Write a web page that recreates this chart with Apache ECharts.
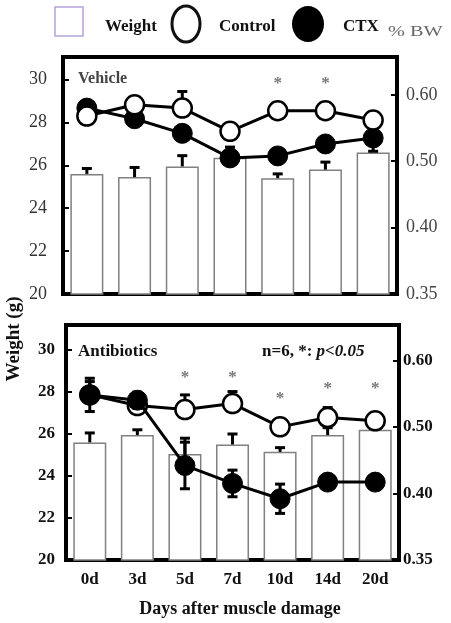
<!DOCTYPE html>
<html><head><meta charset="utf-8">
<script src="https://cdn.jsdelivr.net/npm/echarts@6/dist/echarts.min.js"></script>
<style>html,body{margin:0;padding:0;background:#fff}#c{width:451px;height:623px}</style>
</head><body><div id="c"></div>
<script>
const categories = ['0d','3d','5d','7d','10d','14d','20d'];
const rightTickValues = [0.3, 0.4, 0.5, 0.6];
const rightTickLabels = ['0.35', '0.40', '0.50', '0.60'];

// Vehicle panel
const vehWeight = [25.6, 25.45, 25.95, 26.35, 25.4, 25.8, 26.6];
const vehWeightErr = [0.25, 0.45, 0.5, 0.5, 0.2, 0.35, 0];
const vehControl = [0.568, 0.585, 0.580, 0.545, 0.576, 0.576, 0.562];
const vehControlErr = [0, 0, 0.025, 0, 0, 0, 0];
const vehCTX = [0.580, 0.564, 0.542, 0.505, 0.508, 0.526, 0.535];
const vehCTXErr = [0, 0, 0, 0, 0, 0, 0.02];
const vehStars = [null, null, null, null, 0.625, 0.625, null];

// Antibiotics panel
const abxWeight = [25.6, 25.95, 25.05, 25.5, 25.15, 25.95, 26.2];
const abxWeightErr = [0.45, 0.25, 0.75, 0.5, 0.2, 0.35, 0];
const abxControl = [0.548, 0.532, 0.526, 0.535, 0.500, 0.514, 0.509];
const abxControlErr = [0.02, 0.01, 0.022, 0.018, 0, 0.015, 0];
const abxCTX = [0.548, 0.540, 0.442, 0.415, 0.392, 0.417, 0.417];
const abxCTXErr = [0.025, 0.012, 0.035, 0.02, 0.022, 0.01, 0];
const abxStars = [null, null, 0.582, 0.582, 0.55, 0.565, 0.565];

const SERIF = "'Liberation Serif','DejaVu Serif',serif";

function errSeries(vals, errs, mode, xi, yi, z) {
  return {
    type: 'custom', xAxisIndex: xi, yAxisIndex: yi, z: z, silent: true,
    data: vals.map((v, i) => [i, v, errs[i]]),
    encode: {x: 0, y: 1},
    renderItem: function (params, api) {
      const i = api.value(0), v = api.value(1), e = api.value(2);
      if (!e) return null;
      const t = api.coord([i, v + e]);
      const b = mode === 'up' ? api.coord([i, v]) : api.coord([i, v - e]);
      const st = {stroke: '#000', lineWidth: 3};
      const ch = [
        {type: 'line', shape: {x1: t[0], y1: t[1], x2: b[0], y2: b[1]}, style: st},
        {type: 'line', shape: {x1: t[0] - 5, y1: t[1], x2: t[0] + 5, y2: t[1]}, style: st}
      ];
      if (mode !== 'up') ch.push({type: 'line', shape: {x1: b[0] - 5, y1: b[1], x2: b[0] + 5, y2: b[1]}, style: st});
      return {type: 'group', children: ch};
    }
  };
}
function starSeries(vals, xi, yi) {
  return {
    type: 'custom', xAxisIndex: xi, yAxisIndex: yi, z: 10, silent: true,
    data: vals.map((v, i) => [i, v]).filter(d => d[1] != null),
    encode: {x: 0, y: 1},
    renderItem: function (params, api) {
      const p = api.coord([api.value(0), api.value(1)]);
      return {type: 'text', x: p[0], y: p[1] + 5,
        style: {text: '*', fill: '#777', font: 'bold 17px ' + SERIF, align: 'center', verticalAlign: 'middle'}};
    }
  };
}
function barSeries(vals, xi, yi) {
  return {type: 'bar', xAxisIndex: xi, yAxisIndex: yi, data: vals, barWidth: 33, z: 1,
    itemStyle: {color: '#fff', borderColor: '#808080', borderWidth: 1.5}};
}
function lineSeries(vals, filled, xi, yi, z) {
  return {type: 'line', xAxisIndex: xi, yAxisIndex: yi, data: vals, z: z,
    symbol: 'circle', symbolSize: filled ? 20 : 19, showAllSymbol: true,
    lineStyle: {color: '#000', width: 3},
    itemStyle: filled ? {color: '#000', borderColor: '#000', borderWidth: 1}
                      : {color: '#fff', borderColor: '#000', borderWidth: 2.5}};
}
function rightFmt(v) {
  const i = rightTickValues.findIndex(t => Math.abs(t - v) < 1e-6);
  return i >= 0 ? rightTickLabels[i] : '';
}

const option = {
  animation: false,
  backgroundColor: '#fff',
  grid: [
    {left: 63, width: 334, top: 57, height: 237, show: true, borderColor: '#000', borderWidth: 4},
    {left: 66, width: 333, top: 325, height: 235, show: true, borderColor: '#000', borderWidth: 4}
  ],
  xAxis: [
    {type: 'category', gridIndex: 0, data: categories, axisLine: {show: false}, axisTick: {show: false}, axisLabel: {show: false}},
    {type: 'category', gridIndex: 1, data: categories, axisLine: {show: false}, axisTick: {show: false},
     axisLabel: {margin: 11, fontFamily: SERIF, fontWeight: 'bold', fontSize: 17, color: '#111'}}
  ],
  yAxis: [
    {type: 'value', gridIndex: 0, min: 20, max: 31.05, interval: 2, splitLine: {show: false},
     axisLine: {show: false}, axisTick: {show: true, inside: true, length: 6, lineStyle: {color: '#000', width: 2}},
     axisLabel: {margin: 16, showMaxLabel: false, fontFamily: SERIF, fontSize: 18, color: '#333'}},
    {type: 'value', gridIndex: 0, position: 'right', min: 0.3, max: 0.657, interval: 0.1, splitLine: {show: false},
     axisLine: {show: false}, axisTick: {show: true, inside: true, length: 6, lineStyle: {color: '#000', width: 2}},
     axisLabel: {margin: 9, formatter: rightFmt, fontFamily: SERIF, fontSize: 18, color: '#444'}},
    {type: 'value', gridIndex: 1, min: 20, max: 31.19, interval: 2, splitLine: {show: false},
     axisLine: {show: false}, axisTick: {show: true, inside: true, length: 6, lineStyle: {color: '#000', width: 2}},
     axisLabel: {margin: 11, showMaxLabel: false, fontFamily: SERIF, fontWeight: 'bold', fontSize: 17, color: '#111'}},
    {type: 'value', gridIndex: 1, position: 'right', min: 0.3, max: 0.653, interval: 0.1, splitLine: {show: false},
     axisLine: {show: false}, axisTick: {show: true, inside: true, length: 6, lineStyle: {color: '#000', width: 2}},
     axisLabel: {margin: 4, formatter: rightFmt, fontFamily: SERIF, fontWeight: 'bold', fontSize: 17, color: '#111'}}
  ],
  series: [
    barSeries(vehWeight, 0, 0),
    errSeries(vehWeight, vehWeightErr, 'up', 0, 0, 2),
    errSeries(vehCTX, vehCTXErr, 'both', 0, 1, 3),
    lineSeries(vehCTX, true, 0, 1, 4),
    errSeries(vehControl, vehControlErr, 'up', 0, 1, 5),
    lineSeries(vehControl, false, 0, 1, 6),
    starSeries(vehStars, 0, 1),

    barSeries(abxWeight, 1, 2),
    errSeries(abxWeight, abxWeightErr, 'up', 1, 2, 2),
    errSeries(abxControl, abxControlErr, 'up', 1, 3, 3),
    lineSeries(abxControl, false, 1, 3, 4),
    errSeries(abxCTX, abxCTXErr, 'both', 1, 3, 5),
    lineSeries(abxCTX, true, 1, 3, 6),
    starSeries(abxStars, 1, 3)
  ],
  graphic: [
    {type: 'rect', shape: {x: 55, y: 7, width: 28, height: 29}, style: {fill: '#fff', stroke: '#b7a3db', lineWidth: 1.5}},
    {type: 'text', x: 105, y: 27, style: {text: 'Weight', font: 'bold 17px ' + SERIF, fill: '#111', verticalAlign: 'middle'}},
    {type: 'ellipse', shape: {cx: 186, cy: 24, rx: 14, ry: 18}, style: {fill: '#fff', stroke: '#111', lineWidth: 3}},
    {type: 'text', x: 219, y: 27, style: {text: 'Control', font: 'bold 17px ' + SERIF, fill: '#111', verticalAlign: 'middle'}},
    {type: 'ellipse', shape: {cx: 308, cy: 24, rx: 16, ry: 18}, style: {fill: '#000'}},
    {type: 'text', x: 343, y: 27, style: {text: 'CTX', font: 'bold 17px ' + SERIF, fill: '#111', verticalAlign: 'middle'}},
    {type: 'text', x: 388, y: 32, scaleX: 1.35, style: {text: '% BW', font: '15px ' + SERIF, fill: '#666', verticalAlign: 'middle'}},

    {type: 'text', x: 78, y: 79, z: 20, style: {text: 'Vehicle', font: 'bold 16px ' + SERIF, fill: '#444', verticalAlign: 'middle'}},
    {type: 'text', x: 78, y: 352, z: 20, style: {text: 'Antibiotics', font: 'bold 17px ' + SERIF, fill: '#111', verticalAlign: 'middle'}},
    {type: 'text', x: 262, y: 352, z: 20, style: {text: '{a|n=6, *: }{b|p<0.05}', verticalAlign: 'middle',
      rich: {a: {font: 'bold 17px ' + SERIF, fill: '#111'}, b: {font: 'italic bold 17px ' + SERIF, fill: '#111'}}}},

    {type: 'text', x: 14, y: 339, rotation: Math.PI / 2, style: {text: 'Weight (g)', font: 'bold 19px ' + SERIF, fill: '#111', align: 'center', verticalAlign: 'middle'}},
    {type: 'text', x: 240, y: 609, style: {text: 'Days after muscle damage', font: 'bold 18px ' + SERIF, fill: '#111', align: 'center', verticalAlign: 'middle'}}
  ]
};
const chart = echarts.init(document.getElementById('c'), null, {renderer: 'canvas'});
chart.setOption(option);
</script></body></html>
